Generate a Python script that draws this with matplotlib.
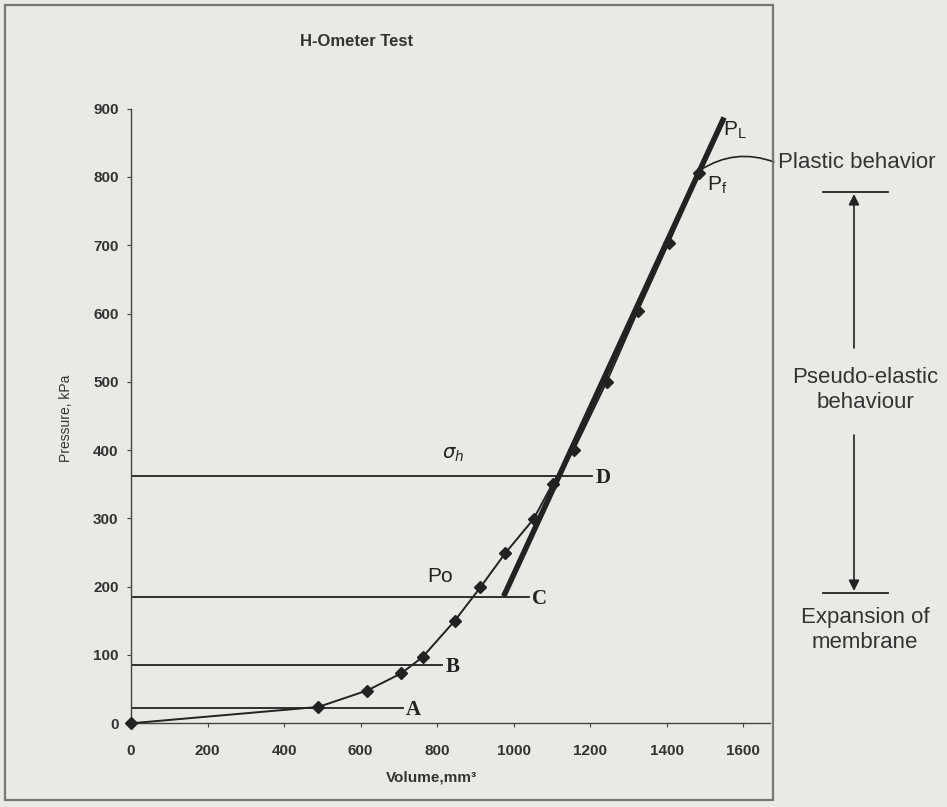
import matplotlib
matplotlib.use('Agg')
import matplotlib.pyplot as plt
from matplotlib.patches import ConnectionPatch, Rectangle
from matplotlib.lines import Line2D

# measured H-Ometer test points (volume mm3, pressure kPa)
volume = [0, 490, 617, 706, 762, 846, 913, 978, 1052, 1102, 1157, 1243, 1324, 1405, 1484]
pressure = [0, 24, 48, 73, 97, 150, 199, 249, 299, 351, 400, 500, 603, 703, 805]

# straight pseudo-elastic fit, from C up to P_L
fit_volume = [974, 1550]
fit_pressure = [186, 887]

# reference pressure levels and how far each line runs
level_names = ['A', 'B', 'C', 'D']
level_values = [23, 85, 185, 362]
level_ends = [710, 813, 1039, 1205]

xticks = [0, 200, 400, 600, 800, 1000, 1200, 1400, 1600]
yticks = [0, 100, 200, 300, 400, 500, 600, 700, 800, 900]

W, H = 947, 807
bg = '#e9e9e6'
ink = '#222222'
txt = '#333333'
sans = 'Liberation Sans'
serif = 'Liberation Serif'

fig = plt.figure(figsize=(W / 100, H / 100), dpi=100, facecolor=bg)


def fpx(x, y):
    # pixel position measured from top-left -> figure pixels
    return (x, H - y)


ax = fig.add_axes([131 / W, (H - 723.3) / H, 639 / W, (723.3 - 108.6) / H])
ax.set_facecolor(bg)
ax.set_xlim(0, 1670)
ax.set_ylim(0, 900)
for s in ['top', 'right']:
    ax.spines[s].set_visible(False)
for s in ['left', 'bottom']:
    ax.spines[s].set_color('#444444')
    ax.spines[s].set_linewidth(1.0)
ax.set_xticks(xticks)
ax.set_yticks(yticks)
ax.tick_params(axis='x', length=3, pad=12, labelsize=11, colors='#444444', labelcolor=txt)
ax.tick_params(axis='y', length=3, pad=6, labelsize=11, colors='#444444', labelcolor=txt)
for lab in ax.get_xticklabels() + ax.get_yticklabels():
    lab.set_fontfamily(sans)
    lab.set_fontweight('bold')

# horizontal reference lines with their letters
for name, lev, end in zip(level_names, level_values, level_ends):
    ax.plot([0, end], [lev, lev], color=ink, lw=1.3, zorder=2)
    ax.text(end + 8, lev - 3, name, family=serif, fontweight='bold', fontsize=15,
            color=ink, ha='left', va='center')

# test curve and the thick linear fit
ax.plot(volume, pressure, color=ink, lw=1.4, marker='D', markersize=6, zorder=3, clip_on=False)
ax.plot(fit_volume, fit_pressure, color=ink, lw=4, solid_capstyle='butt', zorder=4)

ax.text(842, 393, r'$\sigma_h$', fontsize=14, color=ink, ha='center', va='center')
ax.text(809, 215, 'Po', family=sans, fontsize=15, color=ink, ha='center', va='center')
ax.text(1577, 868, r'P$_\mathregular{L}$', family=sans, fontsize=15, color=ink, ha='center', va='center')
ax.text(1532, 788, r'P$_\mathregular{f}$', family=sans, fontsize=15, color=ink, ha='center', va='center')

# arc from P_f to the "Plastic behavior" note
arc = ConnectionPatch(xyA=(1488, 810), coordsA='data', axesA=ax,
                      xyB=fpx(774, 162), coordsB='figure pixels',
                      arrowstyle='-', connectionstyle='arc3,rad=-0.25', color=ink, lw=1.2)
fig.add_artist(arc)

# titles and axis labels
fig.text(357 / W, 1 - 42 / H, 'H-Ometer Test', family=sans, fontweight='bold', fontsize=12,
         color=txt, ha='center', va='center')
fig.text(431 / W, 1 - 778 / H, 'Volume,mm\u00b3', family=sans, fontweight='bold', fontsize=11,
         color=txt, ha='center', va='center')
fig.text(66 / W, 1 - 418 / H, 'Pressure, kPa', family=sans, fontsize=10, color=txt,
         rotation=90, ha='center', va='center')

# figure frame
fig.add_artist(Rectangle(fpx(5, 800), 768, 795, transform=None, fill=False,
                         edgecolor='#777777', lw=1.6))

# right-hand annotations
fig.text(778 / W, 1 - 162 / H, 'Plastic behavior', family=sans, fontsize=16, color=txt,
         ha='left', va='center')
fig.text(865 / W, 1 - 390 / H, 'Pseudo-elastic\nbehaviour', family=sans, fontsize=16, color=txt,
         ha='center', va='center', linespacing=1.2)
fig.text(865 / W, 1 - 630 / H, 'Expansion of\nmembrane', family=sans, fontsize=16, color=txt,
         ha='center', va='center', linespacing=1.2)

for yb in [192, 593]:
    fig.add_artist(Line2D([823, 888], [H - yb, H - yb], transform=None, color=ink, lw=1.3))

fig.add_artist(ConnectionPatch(xyA=fpx(854, 348), xyB=fpx(854, 194), coordsA='figure pixels',
                               coordsB='figure pixels', arrowstyle='-|>', mutation_scale=16,
                               color=ink, lw=1.2, shrinkA=0, shrinkB=0))
fig.add_artist(ConnectionPatch(xyA=fpx(854, 435), xyB=fpx(854, 591), coordsA='figure pixels',
                               coordsB='figure pixels', arrowstyle='-|>', mutation_scale=16,
                               color=ink, lw=1.2, shrinkA=0, shrinkB=0))

fig.savefig('out.png', dpi=100, facecolor=bg)
